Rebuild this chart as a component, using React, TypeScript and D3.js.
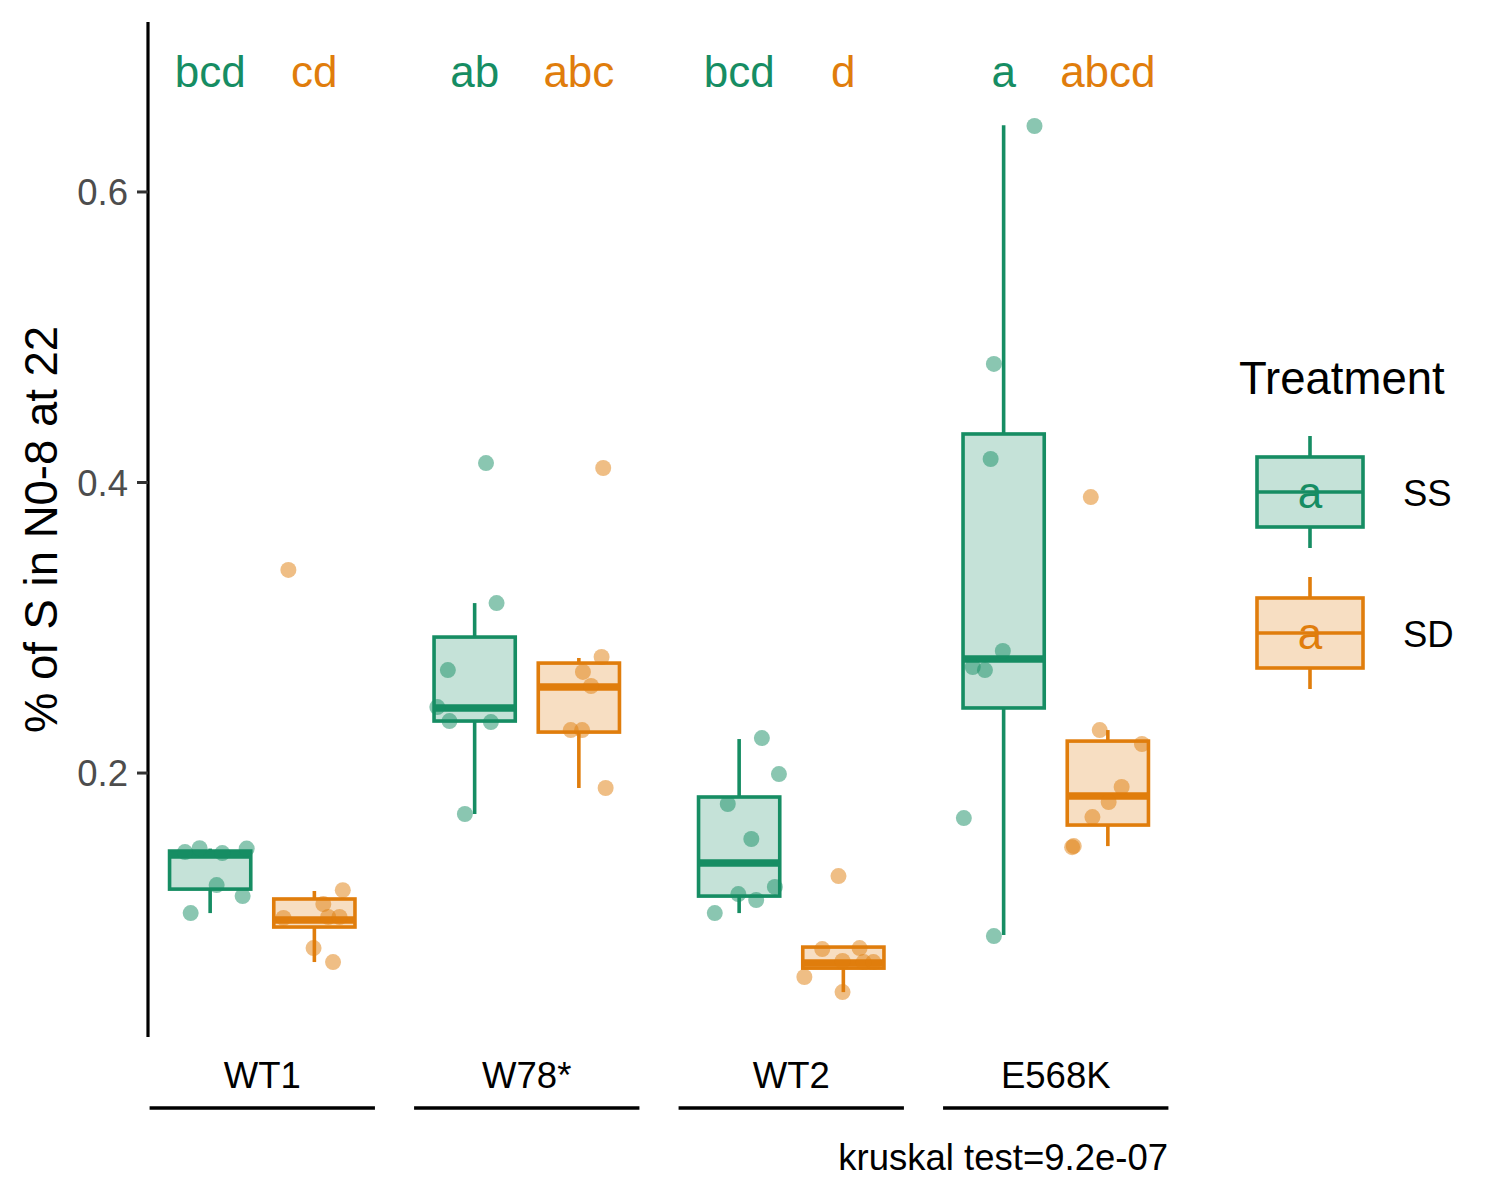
import React from "react";
import * as d3 from "d3";

const categories = ["WT1", "W78*", "WT2", "E568K"];
const treatments = ["SS", "SD"];
const colors = ["#168d63", "#e07d0c"];

// box statistics, one entry per category
const ssLower = [0.1036, 0.1718, 0.1036, 0.0885];
const ssQ1 = [0.1201, 0.2358, 0.1153, 0.2448];
const ssMedian = [0.1436, 0.2448, 0.138, 0.2785];
const ssQ3 = [0.1463, 0.2936, 0.1835, 0.4334];
const ssUpper = [0.148, 0.317, 0.2234, 0.646];

const sdLower = [0.0699, 0.1897, 0.0492, 0.1497];
const sdQ1 = [0.094, 0.2282, 0.0657, 0.1642];
const sdMedian = [0.0988, 0.2592, 0.0692, 0.1842];
const sdQ3 = [0.1133, 0.2757, 0.0802, 0.222];
const sdUpper = [0.1188, 0.2792, 0.0802, 0.2296];

// raw points per category, with their jitter as a share of the box width
const ssValues = [
  [0.1456, 0.1483, 0.1449, 0.148, 0.1229, 0.1153, 0.1036],
  [0.4134, 0.317, 0.2709, 0.2454, 0.2358, 0.2351, 0.1718],
  [0.2241, 0.1993, 0.1787, 0.1546, 0.1216, 0.1167, 0.1126, 0.1036],
  [0.6454, 0.4816, 0.4162, 0.284, 0.273, 0.2709, 0.169, 0.0878],
];
const ssJitter = [
  [-0.31, -0.13, 0.15, 0.45, 0.08, 0.4, -0.24],
  [0.14, 0.27, -0.33, -0.46, -0.31, 0.2, -0.12],
  [0.28, 0.49, -0.14, 0.15, 0.44, -0.01, 0.21, -0.3],
  [0.38, -0.12, -0.16, -0.01, -0.38, -0.23, -0.49, -0.12],
];
const sdValues = [
  [0.3398, 0.1194, 0.1098, 0.1002, 0.1009, 0.1009, 0.0795, 0.0699],
  [0.41, 0.2799, 0.2696, 0.2599, 0.2296, 0.2296, 0.1897],
  [0.1291, 0.0788, 0.0795, 0.0706, 0.0699, 0.0699, 0.0596, 0.0492],
  [0.39, 0.2296, 0.22, 0.1904, 0.18, 0.1697, 0.1497, 0.149],
];
const sdJitter = [
  [-0.32, 0.35, 0.11, -0.38, 0.17, 0.31, -0.01, 0.23],
  [0.3, 0.28, 0.05, 0.15, -0.1, 0.04, 0.33],
  [-0.06, -0.26, 0.2, -0.01, 0.25, 0.37, -0.48, -0.01],
  [-0.21, -0.1, 0.42, 0.17, 0.01, -0.19, -0.42, -0.44],
];

const ssLetters = ["bcd", "ab", "bcd", "a"];
const sdLetters = ["cd", "abc", "d", "abcd"];
const yTicks = [0.2, 0.4, 0.6];
const kruskalLabel = "kruskal test=9.2e-07";

const font = "'Liberation Sans', Arial, Helvetica, sans-serif";

const W = 1500;
const H = 1200;
const panel = { left: 148, right: 1170, top: 22, bottom: 1037 };

export default function App() {
  const x = d3
    .scalePoint<string>()
    .domain(categories)
    .range([panel.left, panel.right])
    .padding(0.432);
  const y = d3
    .scaleLinear()
    .domain([0.0183, 0.717])
    .range([panel.bottom, panel.top]);

  const step = x.step();
  const dodge = step * 0.197;
  const boxW = step * 0.307;

  const groups = [
    { lower: ssLower, q1: ssQ1, median: ssMedian, q3: ssQ3, upper: ssUpper, values: ssValues, jitter: ssJitter, letters: ssLetters },
    { lower: sdLower, q1: sdQ1, median: sdMedian, q3: sdQ3, upper: sdUpper, values: sdValues, jitter: sdJitter, letters: sdLetters },
  ];

  const center = (ci: number, ti: number) =>
    (x(categories[ci]) as number) + (ti === 0 ? -dodge : dodge);

  return (
    <svg
      width={W}
      height={H}
      style={{ position: "absolute", left: 0, top: 0, background: "#fff" }}
      fontFamily={font}
    >
      <rect width={W} height={H} fill="#fff" />

      {/* boxes */}
      {groups.map((g, ti) =>
        categories.map((c, ci) => {
          const cx = center(ci, ti);
          const col = colors[ti];
          return (
            <g key={`box-${ti}-${ci}`}>
              <line x1={cx} x2={cx} y1={y(g.upper[ci])} y2={y(g.q3[ci])} stroke={col} strokeWidth={3.6} />
              <line x1={cx} x2={cx} y1={y(g.q1[ci])} y2={y(g.lower[ci])} stroke={col} strokeWidth={3.6} />
              <rect
                x={cx - boxW / 2}
                y={y(g.q3[ci])}
                width={boxW}
                height={y(g.q1[ci]) - y(g.q3[ci])}
                fill={col}
                fillOpacity={0.25}
                stroke={col}
                strokeWidth={3.6}
              />
              <line
                x1={cx - boxW / 2}
                x2={cx + boxW / 2}
                y1={y(g.median[ci])}
                y2={y(g.median[ci])}
                stroke={col}
                strokeWidth={7.5}
              />
            </g>
          );
        })
      )}

      {/* jittered points */}
      {groups.map((g, ti) =>
        g.values.map((vals, ci) =>
          vals.map((v, pi) => (
            <circle
              key={`pt-${ti}-${ci}-${pi}`}
              cx={center(ci, ti) + g.jitter[ci][pi] * boxW}
              cy={y(v)}
              r={8}
              fill={colors[ti]}
              fillOpacity={0.5}
            />
          ))
        )
      )}

      {/* group letters */}
      {groups.map((g, ti) =>
        g.letters.map((l, ci) => (
          <text
            key={`lt-${ti}-${ci}`}
            x={center(ci, ti)}
            y={y(0.672)}
            textAnchor="middle"
            fontSize={44}
            fill={colors[ti]}
          >
            {l}
          </text>
        ))
      )}

      {/* y axis */}
      <line x1={panel.left} x2={panel.left} y1={panel.top} y2={panel.bottom} stroke="#000" strokeWidth={3.2} />
      {yTicks.map((t) => (
        <g key={`yt-${t}`}>
          <line x1={panel.left - 11} x2={panel.left} y1={y(t)} y2={y(t)} stroke="#333" strokeWidth={3} />
          <text
            x={panel.left - 20}
            y={y(t)}
            dy="0.36em"
            textAnchor="end"
            fontSize={36.5}
            fill="#4d4d4d"
          >
            {d3.format(".1f")(t)}
          </text>
        </g>
      ))}
      <text
        transform={`translate(57, ${(panel.top + panel.bottom) / 2}) rotate(-90)`}
        textAnchor="middle"
        fontSize={45.5}
        fill="#000"
      >
        % of S in N0-8 at 22
      </text>

      {/* x labels with underlines */}
      {categories.map((c) => (
        <g key={`xl-${c}`}>
          <text x={x(c)} y={1088} textAnchor="middle" fontSize={36.5} fill="#000">
            {c}
          </text>
          <line
            x1={(x(c) as number) - step * 0.426}
            x2={(x(c) as number) + step * 0.426}
            y1={1108}
            y2={1108}
            stroke="#000"
            strokeWidth={3.6}
          />
        </g>
      ))}
      <text x={panel.right - 2} y={1170} textAnchor="end" fontSize={36.5} fill="#000">
        {kruskalLabel}
      </text>

      {/* legend */}
      <text x={1239} y={394} fontSize={45.5} fill="#000">
        Treatment
      </text>
      {treatments.map((t, ti) => {
        const cy = 492 + ti * 141;
        const col = colors[ti];
        const kx = 1310;
        return (
          <g key={`lg-${t}`}>
            <line x1={kx} x2={kx} y1={cy - 56} y2={cy + 56} stroke={col} strokeWidth={3.6} />
            <rect x={kx - 53} y={cy - 35} width={106} height={70} fill="#fff" />
            <rect
              x={kx - 53}
              y={cy - 35}
              width={106}
              height={70}
              fill={col}
              fillOpacity={0.25}
              stroke={col}
              strokeWidth={3.6}
            />
            <line x1={kx - 53} x2={kx + 53} y1={cy} y2={cy} stroke={col} strokeWidth={3.6} />
            <text x={kx} y={cy + 16} textAnchor="middle" fontSize={44} fill={col}>
              a
            </text>
            <text x={1403} y={cy + 14} fontSize={36.5} fill="#000">
              {t}
            </text>
          </g>
        );
      })}
    </svg>
  );
}
